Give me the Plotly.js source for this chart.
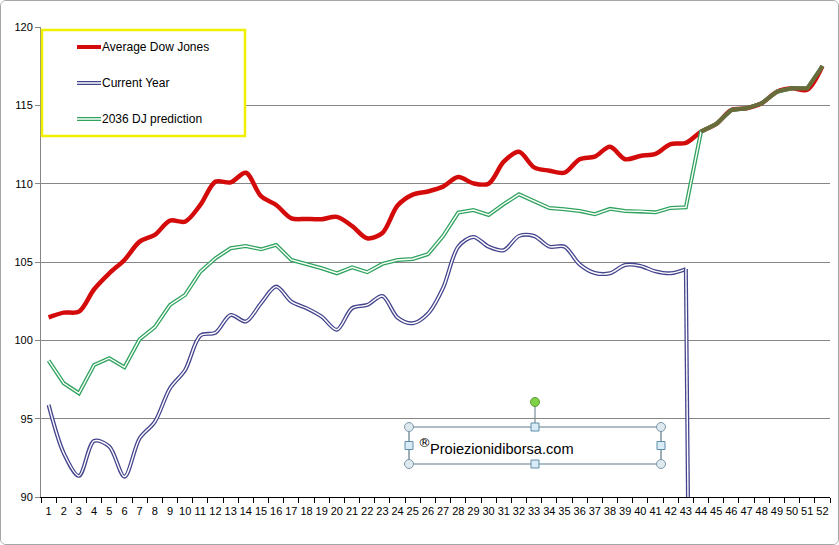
<!DOCTYPE html>
<html>
<head>
<meta charset="utf-8">
<script src="https://cdn.plot.ly/plotly-3.0.1.min.js"></script>
<style>
  html, body { margin: 0; padding: 0; background: #ffffff; }
  #chart { width: 837px; height: 543px; border: 1px solid #a6a6a6; border-radius: 6px; overflow: hidden; }
</style>
</head>
<body>
<div id="chart"></div>
<script>
// ---- data ----
const weeks = [1,2,3,4,5,6,7,8,9,10,11,12,13,14,15,16,17,18,19,20,21,22,23,24,25,26,
               27,28,29,30,31,32,33,34,35,36,37,38,39,40,41,42,43,44,45,46,47,48,49,50,51,52];

const avgDowJones = [101.47,101.77,101.83,103.26,104.28,105.13,106.30,106.73,107.64,107.58,108.64,110.13,110.08,
                     110.70,109.20,108.64,107.79,107.75,107.73,107.88,107.30,106.51,106.85,108.60,109.30,109.50,
                     109.81,110.42,110.02,110.00,111.40,112.04,111.04,110.83,110.70,111.56,111.73,112.36,111.56,
                     111.77,111.90,112.53,112.60,113.32,113.81,114.70,114.81,115.13,115.87,116.09,116.00,117.51];

const currentYear = [95.88,92.80,91.35,93.58,93.22,91.30,93.75,94.80,96.94,98.11,100.30,100.49,101.62,
                     101.20,102.37,103.43,102.47,102.05,101.51,100.68,102.05,102.26,102.83,101.45,101.09,101.70,
                     103.35,105.98,106.60,105.98,105.75,106.66,106.66,105.98,105.98,104.85,104.30,104.28,104.81,
                     104.75,104.40,104.28,104.55,0,null,null,null,null,null,null,null,null];

const prediction2036 = [98.71,97.26,96.62,98.43,98.86,98.28,100.07,100.84,102.26,102.90,104.38,105.24,105.88,
                        106.02,105.81,106.09,105.13,104.88,104.60,104.28,104.66,104.35,104.88,105.13,105.19,105.50,
                        106.66,108.15,108.32,108.00,108.70,109.32,108.90,108.45,108.37,108.26,108.05,108.39,108.26,
                        108.24,108.17,108.45,108.49,113.32,113.81,114.70,114.81,115.13,115.87,116.09,116.09,117.51];

const yTicks = [90, 95, 100, 105, 110, 115, 120];
const seriesNames = ["Average Dow Jones", "Current Year", "2036 DJ prediction"];
const watermarkMark = "®";
const watermarkText = "Proiezionidiborsa.com";

// ---- styles ----
const RED = "#d40b0b", BLUE = "#45458e", GREEN = "#30a35f", OLIVE = "#6a6b3b";
const FONT = "Liberation Sans, Arial, sans-serif";

const xCat = weeks.map(String);
const lastActual = weeks.indexOf(44);           // first week with no current-year quote
// current year: smoothed part up to week 43, straight drop from week 43 to week 44
const cySmooth = currentYear.map((v, i) => i < lastActual ? v : null);
const cyDrop = currentYear.map((v, i) => (i === lastActual - 1 || i === lastActual) ? v : null);
// 2036 prediction: double line until it meets the average, overlapping part drawn olive
const greenInner = prediction2036.map((v, i) => i <= lastActual ? v : null);
const greenOverlap = prediction2036.map((v, i) => i >= lastActual ? v : null);

const dbl = (y, color, shape, name) => [
  {x: xCat, y: y, name: name, mode: "lines", line: {color: color, width: 4, shape: shape, smoothing: 0.9}},
  {x: xCat, y: y, mode: "lines", hoverinfo: "skip", line: {color: "#ffffff", width: 1.4, shape: shape, smoothing: 0.9}}
];

const traces = [
  {x: xCat, y: avgDowJones, name: seriesNames[0], mode: "lines",
   line: {color: RED, width: 4.5, shape: "spline", smoothing: 0.9}},
  ...dbl(cySmooth, BLUE, "spline", seriesNames[1]),
  ...dbl(cyDrop, BLUE, "linear", seriesNames[1]),
  {x: xCat, y: prediction2036, name: seriesNames[2], mode: "lines",
   line: {color: GREEN, width: 4, shape: "linear"}},
  {x: xCat, y: greenInner, mode: "lines", hoverinfo: "skip",
   line: {color: "#ffffff", width: 1.4, shape: "linear"}},
  {x: xCat, y: greenOverlap, mode: "lines", hoverinfo: "skip",
   line: {color: OLIVE, width: 3.8, shape: "linear"}}
];

// page pixel -> paper helpers (plot area: x 41..830, y 27..497 on the page)
const px = x => (x - 41) / 789;
const py = y => (497 - y) / 470;

const shapes = [];
// legend box
shapes.push({type: "rect", xref: "paper", yref: "paper", x0: px(42), x1: px(245), y0: py(136), y1: py(30),
             line: {color: "#f0f000", width: 2.5}, fillcolor: "#ffffff", layer: "above"});
// legend samples
const legY = [47, 83, 119];
shapes.push({type: "line", xref: "paper", yref: "paper", x0: px(77), x1: px(101), y0: py(legY[0]), y1: py(legY[0]),
             line: {color: RED, width: 4}});
[[BLUE, legY[1]], [GREEN, legY[2]]].forEach(([c, y]) => {
  shapes.push({type: "line", xref: "paper", yref: "paper", x0: px(77), x1: px(101), y0: py(y), y1: py(y),
               line: {color: c, width: 4}});
  shapes.push({type: "line", xref: "paper", yref: "paper", x0: px(77), x1: px(101), y0: py(y), y1: py(y),
               line: {color: "#ffffff", width: 1.3}});
});
// watermark text box with selection handles
const bx0 = 409, bx1 = 661, by0 = 427, by1 = 464, bxm = 535, bym = 445.5;
shapes.push({type: "line", xref: "paper", yref: "paper", x0: px(bxm), x1: px(bxm), y0: py(by0), y1: py(402),
             line: {color: "#7d8f99", width: 1.2}});
shapes.push({type: "rect", xref: "paper", yref: "paper", x0: px(bx0), x1: px(bx1), y0: py(by1), y1: py(by0),
             line: {color: "#5f7a87", width: 1.2}});
[[bx0, by0], [bx1, by0], [bx0, by1], [bx1, by1]].forEach(([cx, cy]) => {
  shapes.push({type: "circle", xref: "paper", yref: "paper", x0: px(cx - 4.5), x1: px(cx + 4.5),
               y0: py(cy + 4.5), y1: py(cy - 4.5), fillcolor: "#dde8ef", line: {color: "#7f98a6", width: 1}});
});
[[bxm, by0], [bxm, by1], [bx0, bym], [bx1, bym]].forEach(([cx, cy]) => {
  shapes.push({type: "rect", xref: "paper", yref: "paper", x0: px(cx - 4), x1: px(cx + 4),
               y0: py(cy + 4), y1: py(cy - 4), fillcolor: "#d8ebf6", line: {color: "#5f8ca8", width: 1}});
});
shapes.push({type: "circle", xref: "paper", yref: "paper", x0: px(bxm - 4.5), x1: px(bxm + 4.5),
             y0: py(402 + 4.5), y1: py(402 - 4.5), fillcolor: "#7fd247", line: {color: "#5c9b33", width: 1}});

const annotations = seriesNames.map((t, i) => ({
  text: t, xref: "paper", yref: "paper", x: px(100), y: py(legY[i]), xanchor: "left", yanchor: "middle",
  showarrow: false, font: {family: FONT, size: 12, color: "#000000"}
}));
annotations.push({text: watermarkMark, xref: "paper", yref: "paper", x: px(416), y: py(442), xanchor: "left",
                  yanchor: "middle", showarrow: false, font: {family: "DejaVu Sans, sans-serif", size: 13, color: "#000000"}});
annotations.push({text: watermarkText, xref: "paper", yref: "paper", x: px(428), y: py(449), xanchor: "left",
                  yanchor: "middle", showarrow: false, font: {family: FONT, size: 14.6, color: "#000000"}});

const layout = {
  width: 837, height: 543,
  margin: {l: 40, r: 8, t: 26, b: 47, pad: 0},
  paper_bgcolor: "#ffffff", plot_bgcolor: "#ffffff",
  showlegend: false,
  font: {family: FONT, size: 11, color: "#000000"},
  xaxis: {type: "category", range: [-0.5, 51.5], tickmode: "linear", tick0: 0, dtick: 1,
          tickson: "boundaries", ticks: "outside", ticklen: 5, tickcolor: "#000000", tickwidth: 1,
          showline: true, linecolor: "#000000", linewidth: 1, showgrid: false, zeroline: false,
          ticklabelstandoff: 4,
          tickangle: 0, tickfont: {family: FONT, size: 11, color: "#000000"}, fixedrange: true},
  yaxis: {range: [90, 120], tickmode: "array", tickvals: yTicks, ticktext: yTicks.map(String),
          ticks: "outside", ticklen: 5, tickcolor: "#868686", showline: true, linecolor: "#868686",
          showgrid: true, gridcolor: "#868686", gridwidth: 1, zeroline: false,
          tickfont: {family: FONT, size: 11, color: "#000000"}, fixedrange: true},
  shapes: shapes,
  annotations: annotations
};

Plotly.newPlot("chart", traces, layout, {displayModeBar: false, staticPlot: true});
</script>
</body>
</html>
